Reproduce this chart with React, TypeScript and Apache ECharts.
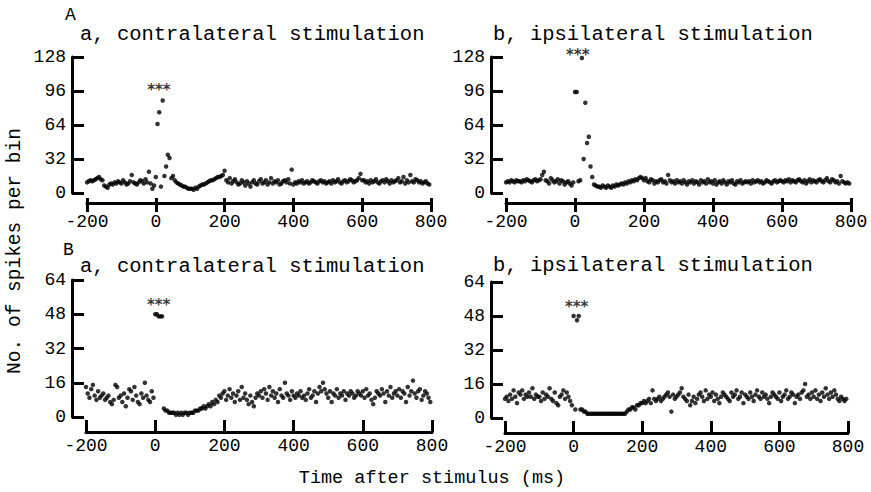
import React, { useEffect, useRef } from "react";
import * as echarts from "echarts";

// 5 ms bins from -200 ms
const BIN_START = -200;
const BIN_WIDTH = 5;

const TICKS_X = [-200, 0, 200, 400, 600, 800];
const TICKS_Y_A = [0, 32, 64, 96, 128];
const TICKS_Y_B = [0, 16, 32, 48, 64];

const TITLE_AA = "a, contralateral stimulation";
const TITLE_AB = "b, ipsilateral stimulation";
const TITLE_BA = "a, contralateral stimulation";
const TITLE_BB = "b, ipsilateral stimulation";
const Y_NAME = "No. of spikes per bin";
const X_NAME = "Time after stimulus (ms)";

// A, a: contralateral
const VALUES_AA = [
  10, 11, 12, 11, 12, 13, 14, 15, 13, 12, 7, 6, 5, 8, 9, 8, 10, 9, 11, 10,
  9, 12, 10, 8, 9, 11, 17, 10, 9, 8, 10, 12, 11, 9, 13, 10, 20, 9, 4, 7,
  15, 65, 76, 6, 87, 16, 25, 36, 33, 14, 16, 12, 10, 9, 8, 7, 6, 6, 5, 4,
  4, 4, 3, 5, 4, 6, 7, 8, 8, 9, 10, 11, 12, 12, 13, 14, 15, 15, 16, 17,
  21, 12, 10, 14, 9, 11, 13, 10, 8, 9, 12, 10, 7, 11, 9, 6, 10, 12, 9, 8,
  11, 13, 9, 10, 12, 8, 10, 14, 9, 11, 10, 12, 8, 9, 11, 12, 10, 13, 9, 22,
  8, 10, 9, 11, 10, 12, 9, 10, 11, 9, 10, 12, 11, 10, 9, 11, 12, 10, 11, 9,
  10, 11, 9, 12, 10, 11, 13, 10, 9, 11, 12, 10, 11, 13, 12, 10, 11, 12, 14, 18,
  12, 12, 10, 11, 9, 12, 10, 11, 13, 10, 9, 11, 12, 10, 13, 11, 9, 12, 10, 11,
  12, 14, 10, 11, 15, 9, 12, 10, 17, 11, 10, 13, 12, 10, 11, 9, 10, 11, 9, 8,
];

// A, b: ipsilateral
const VALUES_AB = [
  10, 11, 10, 12, 11, 10, 12, 11, 11, 10, 12, 11, 13, 12, 11, 10, 12, 13, 11, 12,
  13, 17, 20, 12, 11, 9, 14, 12, 10, 11, 13, 9, 12, 11, 8, 10, 11, 9, 7, 10,
  95, 95, 11, 12, 127, 32, 85, 47, 53, 25, 15, 8, 7, 6, 6, 5, 7, 6, 5, 7,
  6, 5, 7, 6, 8, 7, 8, 9, 8, 10, 9, 11, 10, 12, 11, 13, 12, 14, 15, 14,
  12, 14, 11, 10, 13, 12, 9, 11, 10, 12, 13, 10, 11, 9, 17, 12, 10, 11, 9, 12,
  10, 11, 9, 12, 10, 8, 11, 10, 12, 9, 11, 10, 8, 12, 10, 11, 9, 13, 10, 11,
  9, 12, 8, 10, 11, 9, 12, 10, 8, 11, 10, 12, 9, 8, 11, 10, 12, 9, 10, 11,
  10, 11, 9, 12, 10, 11, 12, 10, 11, 9, 10, 12, 11, 10, 9, 11, 12, 10, 11, 12,
  11, 10, 12, 11, 13, 10, 12, 11, 10, 12, 13, 11, 10, 12, 9, 11, 13, 10, 12, 11,
  10, 12, 13, 11, 10, 12, 14, 11, 10, 13, 12, 10, 11, 9, 16, 11, 10, 9, 10, 9,
];

// B, a: contralateral
const VALUES_BA = [
  14, 11, 9, 13, 15, 10, 8, 12, 9, 10, 11, 8, 9, 10, 7, 6, 8, 15, 14, 9,
  10, 7, 11, 5, 9, 13, 12, 8, 14, 10, 7, 6, 11, 9, 16, 10, 8, 7, 12, 9,
  48, 48, 47, 47, 47, 4, 3, 3, 2, 2, 2, 2, 1, 2, 1, 2, 1, 2, 2, 1,
  2, 2, 2, 3, 3, 3, 4, 4, 5, 4, 5, 6, 5, 7, 6, 8, 7, 10, 9, 11,
  12, 8, 10, 13, 9, 11, 7, 10, 12, 8, 14, 9, 11, 8, 6, 10, 7, 5, 9, 11,
  10, 12, 9, 13, 11, 8, 14, 10, 12, 9, 11, 7, 13, 10, 9, 16, 11, 10, 8, 12,
  10, 9, 11, 10, 12, 9, 10, 8, 11, 13, 9, 10, 12, 7, 11, 14, 12, 16, 13, 11,
  9, 12, 7, 11, 10, 13, 9, 11, 10, 12, 8, 11, 10, 12, 11, 9, 10, 12, 11, 10,
  12, 9, 13, 10, 11, 8, 6, 9, 12, 11, 10, 13, 11, 7, 12, 10, 14, 9, 11, 12,
  10, 13, 9, 12, 11, 7, 14, 10, 12, 17, 11, 9, 12, 13, 8, 10, 12, 11, 9, 7,
];

// B, b: ipsilateral
const VALUES_BB = [
  9, 10, 8, 11, 9, 13, 10, 7, 12, 11, 13, 9, 11, 10, 12, 10, 14, 9, 11, 10,
  10, 8, 12, 9, 11, 10, 14, 9, 8, 12, 7, 6, 10, 11, 13, 9, 12, 10, 8, 6,
  48, 4, 46, 48, 4, 4, 3, 3, 2, 2, 2, 2, 2, 2, 2, 2, 2, 2, 2, 2,
  2, 2, 2, 2, 2, 2, 2, 2, 2, 2, 2, 3, 4, 4, 5, 5, 4, 6, 6, 7,
  7, 8, 7, 8, 9, 7, 13, 9, 8, 9, 10, 8, 9, 10, 11, 12, 10, 3, 11, 9,
  10, 11, 12, 14, 10, 9, 8, 11, 6, 8, 10, 7, 9, 11, 12, 10, 8, 13, 9, 11,
  10, 12, 8, 11, 9, 7, 10, 12, 11, 10, 9, 8, 12, 10, 11, 13, 9, 10, 12, 7,
  11, 10, 9, 12, 10, 8, 11, 13, 10, 9, 12, 10, 11, 9, 7, 10, 12, 11, 10, 9,
  12, 8, 10, 11, 13, 9, 10, 12, 11, 7, 10, 11, 9, 12, 13, 16, 10, 11, 9, 12,
  10, 13, 9, 11, 8, 12, 10, 14, 11, 9, 12, 10, 13, 11, 9, 8, 10, 9, 8, 9,
];

// "***" markers [time, value]
const STARS_AA = [9, 101];
const STARS_AB = [8, 126];
const STARS_BA = [10, 54];
const STARS_BB = [9, 54];
const STAR_SHIFT = [4, -4, 4, 4];

const FONT = "Liberation Mono";
const INK = "#000";

function toPoints(vals: number[]) {
  return vals.map((v, i) => [BIN_START + i * BIN_WIDTH, v]);
}

export default function App() {
  const ref = useRef<HTMLDivElement>(null);
  useEffect(() => {
    if (!ref.current) return;
    const chart = echarts.init(ref.current, undefined, { renderer: "svg" });

    const panels = [
      { left: 87, right: 431, top: 57, bottom: 193, yLineX: 72, xLineY: 203, ticksY: TICKS_Y_A, x2: true, tickIn: 5, margin: 10 },
      { left: 506, right: 851, top: 57, bottom: 193, yLineX: 491, xLineY: 203, ticksY: TICKS_Y_A, x2: true, tickIn: 5, margin: 10 },
      { left: 86, right: 432, top: 280, bottom: 417, yLineX: 72, xLineY: 432, ticksY: TICKS_Y_B, x2: false, tickIn: 12, margin: 5 },
      { left: 505, right: 848, top: 282, bottom: 418, yLineX: 491, xLineY: 433, ticksY: TICKS_Y_B, x2: false, tickIn: 12, margin: 5 },
    ];
    const valueSets = [VALUES_AA, VALUES_AB, VALUES_BA, VALUES_BB];
    const stars = [STARS_AA, STARS_AB, STARS_BA, STARS_BB];

    const grids: any[] = [];
    const xAxes: any[] = [];
    const yAxes: any[] = [];
    const series: any[] = [];
    const lineStyle = { color: INK, width: 3 };
    const labelStyle = { fontFamily: FONT, fontSize: 18, color: INK };
    const xRange = {
      type: "value",
      min: TICKS_X[0],
      max: TICKS_X[TICKS_X.length - 1],
      interval: TICKS_X[1] - TICKS_X[0],
      splitLine: { show: false },
    };

    panels.forEach((p, i) => {
      const yRange = {
        type: "value",
        min: p.ticksY[0],
        max: p.ticksY[p.ticksY.length - 1],
        interval: p.ticksY[1] - p.ticksY[0],
        splitLine: { show: false },
      };
      const gData = grids.length;
      grids.push({ left: p.left, top: p.top, width: p.right - p.left, height: p.bottom - p.top });
      xAxes.push({ ...xRange, gridIndex: gData, show: false });
      yAxes.push({ ...yRange, gridIndex: gData, show: false });
      const ax = xAxes.length - 1;

      const gY = grids.length;
      grids.push({ left: p.yLineX, top: p.top, width: p.right - p.yLineX, height: p.bottom - p.top });
      xAxes.push({ ...xRange, gridIndex: gY, show: false });
      yAxes.push({
        ...yRange,
        gridIndex: gY,
        axisLine: { show: true, onZero: false, lineStyle },
        axisTick: { show: true, inside: true, length: 12, lineStyle },
        axisLabel: { ...labelStyle, margin: 6 },
      });

      const gX = grids.length;
      grids.push({ left: p.left, top: p.top, width: p.right - p.left, height: p.xLineY - p.top });
      xAxes.push({
        ...xRange,
        gridIndex: gX,
        axisLine: { show: true, onZero: false, lineStyle },
        axisTick: { show: true, inside: true, length: p.tickIn, lineStyle },
        axisLabel: { ...labelStyle, margin: p.margin },
      });
      yAxes.push({ ...yRange, gridIndex: gX, show: false });

      if (p.x2) {
        const gX2 = grids.length;
        grids.push({ left: p.left, top: p.top, width: p.right - p.left, height: p.xLineY - p.top });
        xAxes.push({
          ...xRange,
          gridIndex: gX2,
          axisLine: { show: false },
          axisTick: { show: true, inside: false, length: 9, lineStyle },
          axisLabel: { show: false },
        });
        yAxes.push({ ...yRange, gridIndex: gX2, show: false });
      }

      series.push({
        type: "scatter",
        xAxisIndex: ax,
        yAxisIndex: ax,
        symbol: "circle",
        symbolSize: 4.5,
        itemStyle: { color: INK },
        data: toPoints(valueSets[i]),
        clip: false,
      });
      series.push({
        type: "scatter",
        xAxisIndex: ax,
        yAxisIndex: ax,
        symbolSize: 0,
        itemStyle: { color: "transparent" },
        data: [stars[i]],
        clip: false,
        label: {
          show: true,
          position: "inside",
          formatter: "***",
          fontFamily: "DejaVu Sans",
          fontWeight: "bold",
          fontSize: 15,
          lineHeight: 9,
          color: INK,
          offset: [0, STAR_SHIFT[i]],
        },
      });
    });

    const txt = (x: number, y: number, text: string, size: number, extra: any = {}) => ({
      type: "text",
      x,
      y,
      style: {
        text,
        fontFamily: FONT,
        fontSize: size,
        fill: INK,
        textAlign: "left",
        textVerticalAlign: "middle",
        ...extra,
      },
    });

    chart.setOption({
      animation: false,
      backgroundColor: "#fff",
      grid: grids,
      xAxis: xAxes,
      yAxis: yAxes,
      series,
      graphic: [
        txt(65, 15, "A", 18),
        txt(63, 250, "B", 18),
        txt(80, 34, TITLE_AA, 20.5),
        txt(493, 34, TITLE_AB, 20.5),
        txt(80, 266, TITLE_BA, 20.5),
        txt(493, 265, TITLE_BB, 20.5),
        txt(432, 478, X_NAME, 18.5, { textAlign: "center" }),
        {
          type: "text",
          x: 15,
          y: 251,
          rotation: Math.PI / 2,
          style: {
            text: Y_NAME,
            fontFamily: FONT,
            fontSize: 19.5,
            fill: INK,
            textAlign: "center",
            textVerticalAlign: "middle",
          },
        },
      ],
    });
    return () => chart.dispose();
  }, []);
  return (
    <div
      ref={ref}
      style={{ position: "fixed", left: 0, top: 0, width: 871, height: 492, background: "#fff" }}
    />
  );
}
